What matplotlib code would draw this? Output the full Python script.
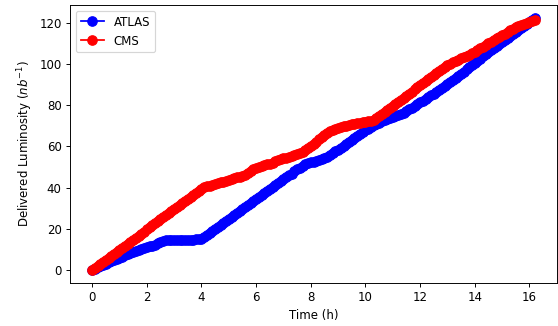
import numpy as np
import matplotlib
matplotlib.use("Agg")
import matplotlib.pyplot as plt

# sampling times (h)
time_h = np.round(np.arange(0.0, 16.21, 0.1), 1)

atlas = [
    0, 0.7, 1.4, 2.0, 2.7, 3.3, 3.9, 4.5, 5.0, 5.5,
    6.0, 6.6, 7.2, 7.8, 8.4, 9.0, 9.5, 10.0, 10.4, 10.8,
    11.2, 11.6, 12.0, 12.5, 13.1, 13.7, 14.2, 14.5, 14.6, 14.6,
    14.6, 14.6, 14.7, 14.7, 14.7, 14.8, 14.8, 14.9, 15.0, 15.1,
    15.3, 16.2, 17.2, 18.1, 19.1, 20.1, 21.0, 22.0, 23.0, 23.9,
    24.9, 25.9, 26.8, 27.8, 28.7, 29.7, 30.7, 31.6, 32.6, 33.5,
    34.5, 35.4, 36.4, 37.3, 38.3, 39.3, 40.2, 41.2, 42.1, 43.1,
    44.1, 45.0, 46.0, 46.9, 47.9, 48.9, 49.8, 50.7, 51.4, 51.9,
    52.3, 52.7, 53.1, 53.5, 53.9, 54.3, 54.8, 55.7, 56.7, 57.6,
    58.5, 59.5, 60.4, 61.3, 62.2, 63.2, 64.1, 65.0, 66.0, 66.9,
    67.8, 68.7, 69.6, 70.4, 71.0, 71.6, 72.1, 72.6, 73.1, 73.6,
    74.1, 74.6, 75.1, 75.6, 76.4, 77.2, 78.0, 78.8, 79.6, 80.5,
    81.3, 82.2, 83.0, 83.9, 84.7, 85.6, 86.5, 87.4, 88.3, 89.2,
    90.1, 91.1, 92.1, 93.2, 94.2, 95.3, 96.3, 97.4, 98.4, 99.5,
    100.5, 101.6, 102.6, 103.7, 104.7, 105.7, 106.7, 107.8, 108.8, 109.8,
    110.8, 111.8, 112.7, 113.7, 114.6, 115.6, 116.5, 117.5, 118.4, 119.4,
    120.4, 121.4, 122.4,
]

cms = [
    0, 1.0, 2.0, 3.0, 4.0, 5.0, 5.9, 6.9, 7.9, 8.9,
    9.9, 10.9, 11.9, 12.9, 13.9, 14.9, 15.8, 16.8, 17.8, 18.8,
    19.8, 20.8, 21.8, 22.8, 23.8, 24.8, 25.7, 26.7, 27.7, 28.7,
    29.7, 30.7, 31.7, 32.7, 33.6, 34.6, 35.6, 36.6, 37.6, 38.6,
    39.6,
    40.2, 40.7, 41.0, 41.4, 41.8, 42.3, 42.7, 43.0, 43.4, 43.8,
    44.2, 44.6, 45.0, 45.3, 45.6, 46.2, 47.2, 48.3, 49.2, 49.8,
    50.2, 50.5, 50.9, 51.3, 51.7, 52.2, 52.8, 53.4, 53.8, 54.2,
    54.6, 55.0, 55.4, 55.8, 56.2, 56.6, 57.4, 58.4, 59.4, 60.4,
    61.4, 62.4, 63.4, 64.4, 65.4, 66.4, 67.3, 68.0, 68.5, 68.9,
    69.3, 69.7, 70.1, 70.4, 70.7, 71.0, 71.2, 71.5, 71.7, 71.9,
    72.1, 72.4, 72.8, 73.7, 74.7, 75.7, 76.7, 77.7, 78.7, 79.7,
    80.7, 81.7, 82.7, 83.6, 84.6, 85.6, 86.6, 87.6, 88.6, 89.6,
    90.6, 91.5, 92.5, 93.5, 94.4, 95.4, 96.4, 97.4, 98.4, 99.3,
    100.1, 100.8, 101.5, 102.1, 102.7, 103.3, 103.9, 104.5, 105.2, 105.9,
    106.7, 107.5, 108.3, 109.1, 109.9, 110.7, 111.5, 112.3, 113.1, 113.9,
    114.7, 115.5, 116.3, 117.1, 117.8, 118.4, 118.9, 119.3, 119.7, 120.1,
    120.6, 121.3,
]

DPI = 85
fig = plt.figure(figsize=(558 / DPI, 326 / DPI), dpi=DPI)
ax = fig.add_axes([70/558, 1-283/326, (557-70)/558, (283-5)/326])
ax.plot(time_h, atlas, 'o-', color='blue', label='ATLAS', markersize=8)
ax.plot(time_h, cms, 'o-', color='red', label='CMS', markersize=8)
ax.set_xlabel('Time (h)')
ax.set_ylabel('Delivered Luminosity ($nb^{-1}$)')
ax.legend(loc='upper left')
ax.set_xticks([0, 2, 4, 6, 8, 10, 12, 14, 16])
fig.savefig('out.png', dpi=DPI)
